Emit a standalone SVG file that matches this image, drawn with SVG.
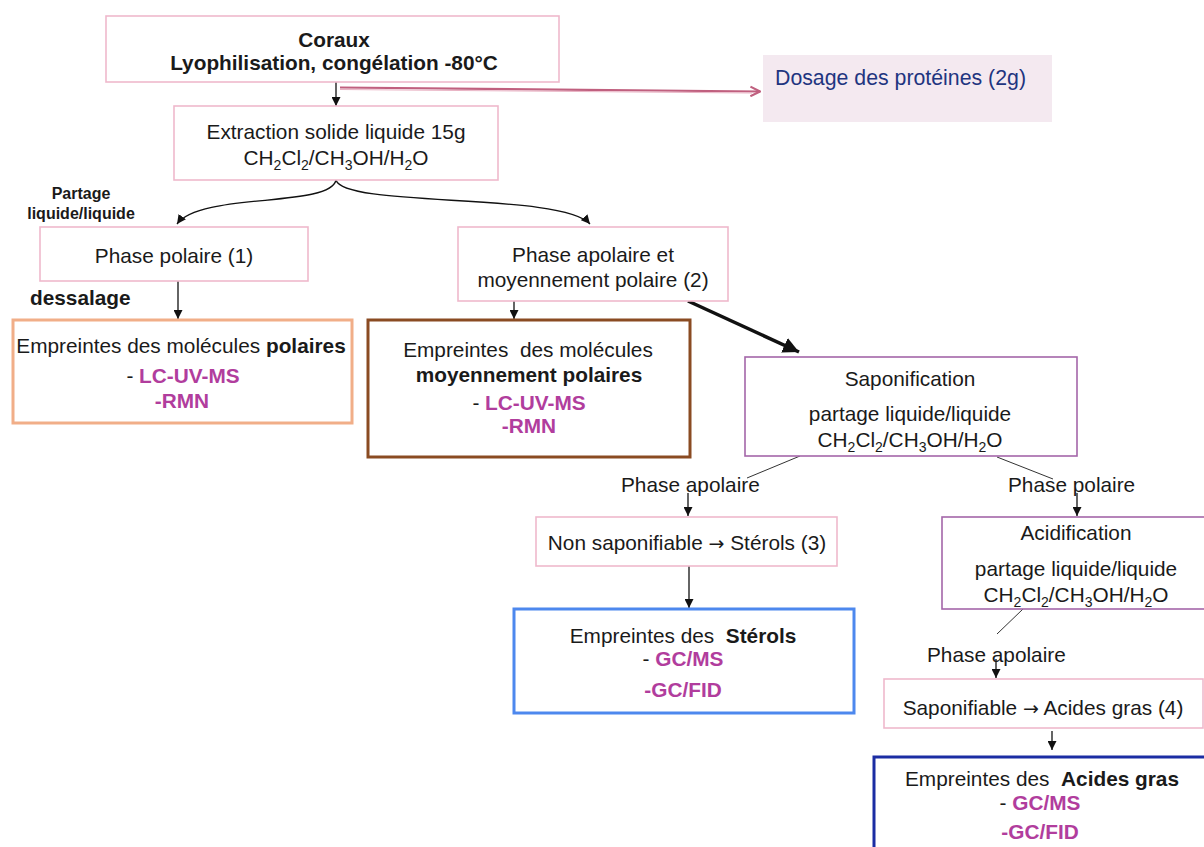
<svg xmlns="http://www.w3.org/2000/svg" width="1204" height="847" viewBox="0 0 1204 847">
<defs>
<style>
text{font-family:"Liberation Sans",Arial,sans-serif;font-size:20.8px;fill:#1a1a1a}
.c{text-anchor:middle}
.b{font-weight:bold}
.m{fill:#b13d9d;font-weight:bold}
.s{font-size:14px}
.arr{font-family:"DejaVu Sans",sans-serif;font-size:19px}
.pink{fill:#fff;stroke:#efb9cc;stroke-width:1.6}
.purple{fill:#fff;stroke:#a466a9;stroke-width:1.6}
.line{fill:none;stroke:#111;stroke-width:1.3}
.thin{fill:none;stroke:#333;stroke-width:1}
</style>
<marker id="ah" viewBox="0 0 10 10" refX="10" refY="5" markerWidth="9" markerHeight="9" markerUnits="userSpaceOnUse" orient="auto"><path d="M0,0 L10,5 L0,10 z" fill="#111"/></marker>
<marker id="ahb" viewBox="0 0 10 10" refX="10" refY="5" markerWidth="16" markerHeight="16" markerUnits="userSpaceOnUse" orient="auto"><path d="M0,0 L10,5 L0,10 z" fill="#111"/></marker>
<marker id="ahp" viewBox="0 0 10 10" refX="9" refY="5" markerWidth="12" markerHeight="12" markerUnits="userSpaceOnUse" orient="auto"><path d="M1,1 L9,5 L1,9" fill="none" stroke="#c0607f" stroke-width="1.8"/></marker>
</defs>
<rect width="1204" height="847" fill="#fff"/>

<g id="connectors">
<path class="line" d="M336,82 L336,106" marker-end="url(#ah)"/>
<path d="M340,87.5 L760,91.5" fill="none" stroke="#c0607f" stroke-width="2.2" marker-end="url(#ahp)"/>
<path d="M340,89.5 L752,93" fill="none" stroke="#e9b3c4" stroke-width="1"/>
<path class="line" d="M336,180 C330,208 200,192 177,224" marker-end="url(#ah)"/>
<path class="line" d="M336,180 C344,208 562,192 590,224" marker-end="url(#ah)"/>
<path class="line" d="M178,281 L178,319" marker-end="url(#ah)"/>
<path class="line" d="M514,301 L514,319" marker-end="url(#ah)"/>
<path d="M688,301 L799,352" fill="none" stroke="#111" stroke-width="3.5" marker-end="url(#ahb)"/>
<path class="thin" d="M800,456 L747,478"/>
<path class="thin" d="M997,457 L1053,479"/>
<path class="line" d="M688,493 L688,516" marker-end="url(#ah)"/>
<path class="line" d="M1077,493 L1077,516" marker-end="url(#ah)"/>
<path class="line" d="M689,566 L689,608" marker-end="url(#ah)"/>
<path class="thin" d="M1023,609 L997,634"/>
<path class="line" d="M996,659 L996,678" marker-end="url(#ah)"/>
<path class="line" d="M1052,731 L1052,750" marker-end="url(#ah)"/>
</g>

<g id="labels">
<text class="c b" x="81" y="199" style="font-size:16px">Partage</text>
<text class="c b" x="81" y="219" style="font-size:16px">liquide/liquide</text>
<text class="b" x="30" y="305">dessalage</text>
<text x="621" y="492">Phase apolaire</text>
<text x="1008" y="492">Phase polaire</text>
<text x="927" y="662">Phase apolaire</text>
</g>

<g id="coraux">
<rect class="pink" x="106" y="16" width="453" height="66"/>
<text class="c b" x="334" y="47">Coraux</text>
<text class="c b" x="334" y="70">Lyophilisation, congélation -80°C</text>
</g>

<g id="dosage">
<rect x="763" y="55" width="289" height="67" fill="#f4e9f0"/>
<text x="775" y="85" style="fill:#1f3580;font-size:21.3px">Dosage des protéines (2g)</text>
</g>

<g id="extraction">
<rect class="pink" x="174" y="106" width="324" height="74"/>
<text class="c" x="336" y="139">Extraction solide liquide 15g</text>
<text class="c" x="336" y="165">CH<tspan dy="5" class="s">2</tspan><tspan dy="-5">Cl</tspan><tspan dy="5" class="s">2</tspan><tspan dy="-5">/CH</tspan><tspan dy="5" class="s">3</tspan><tspan dy="-5">OH/H</tspan><tspan dy="5" class="s">2</tspan><tspan dy="-5">O</tspan></text>
</g>

<g id="phase-polaire">
<rect class="pink" x="40" y="227" width="268" height="54"/>
<text class="c" x="174" y="263">Phase polaire (1)</text>
</g>

<g id="phase-apolaire">
<rect class="pink" x="458" y="227" width="270" height="74"/>
<text class="c" x="593" y="262">Phase apolaire et</text>
<text class="c" x="593" y="287">moyennement polaire (2)</text>
</g>

<g id="empreintes-polaires">
<rect x="13" y="320" width="339" height="103" fill="#fff" stroke="#f1ae88" stroke-width="3"/>
<text class="c" x="181" y="353">Empreintes des molécules <tspan class="b">polaires</tspan></text>
<text class="c" x="183" y="383">- <tspan class="m">LC-UV-MS</tspan></text>
<text class="c m" x="182" y="408">-RMN</text>
</g>

<g id="empreintes-moyennement">
<rect x="368" y="320" width="322" height="137" fill="#fff" stroke="#8a4b22" stroke-width="3"/>
<text class="c" x="528" y="357" xml:space="preserve">Empreintes  des molécules</text>
<text class="c b" x="529" y="382">moyennement polaires</text>
<text class="c" x="529" y="410">- <tspan class="m">LC-UV-MS</tspan></text>
<text class="c m" x="529" y="433">-RMN</text>
</g>

<g id="saponification">
<rect class="purple" x="745" y="357" width="332" height="99"/>
<text class="c" x="910" y="386">Saponification</text>
<text class="c" x="910" y="421">partage liquide/liquide</text>
<text class="c" x="910" y="447">CH<tspan dy="5" class="s">2</tspan><tspan dy="-5">Cl</tspan><tspan dy="5" class="s">2</tspan><tspan dy="-5">/CH</tspan><tspan dy="5" class="s">3</tspan><tspan dy="-5">OH/H</tspan><tspan dy="5" class="s">2</tspan><tspan dy="-5">O</tspan></text>
</g>

<g id="non-saponifiable">
<rect class="pink" x="536" y="517" width="301" height="49"/>
<text class="c" x="687" y="550">Non saponifiable <tspan class="arr">→</tspan> Stérols (3)</text>
</g>

<g id="acidification">
<rect class="purple" x="942" y="517" width="270" height="92"/>
<text class="c" x="1076" y="540">Acidification</text>
<text class="c" x="1076" y="576">partage liquide/liquide</text>
<text class="c" x="1076" y="602">CH<tspan dy="5" class="s">2</tspan><tspan dy="-5">Cl</tspan><tspan dy="5" class="s">2</tspan><tspan dy="-5">/CH</tspan><tspan dy="5" class="s">3</tspan><tspan dy="-5">OH/H</tspan><tspan dy="5" class="s">2</tspan><tspan dy="-5">O</tspan></text>
</g>

<g id="empreintes-sterols">
<rect x="514" y="609" width="340" height="104" fill="#fff" stroke="#4d88ee" stroke-width="3"/>
<text class="c" x="683" y="643" xml:space="preserve">Empreintes des  <tspan class="b">Stérols</tspan></text>
<text class="c" x="683" y="666">- <tspan class="m">GC/MS</tspan></text>
<text class="c m" x="683" y="697">-GC/FID</text>
</g>

<g id="saponifiable">
<rect class="pink" x="884" y="679" width="319" height="49"/>
<text class="c" x="1043" y="715">Saponifiable <tspan class="arr">→</tspan> Acides gras (4)</text>
</g>

<g id="empreintes-acides">
<rect x="874" y="757" width="340" height="100" fill="#fff" stroke="#1b2da3" stroke-width="3"/>
<text class="c" x="1042" y="786" xml:space="preserve">Empreintes des  <tspan class="b">Acides gras</tspan></text>
<text class="c" x="1040" y="810">- <tspan class="m">GC/MS</tspan></text>
<text class="c m" x="1040" y="839">-GC/FID</text>
</g>
</svg>
